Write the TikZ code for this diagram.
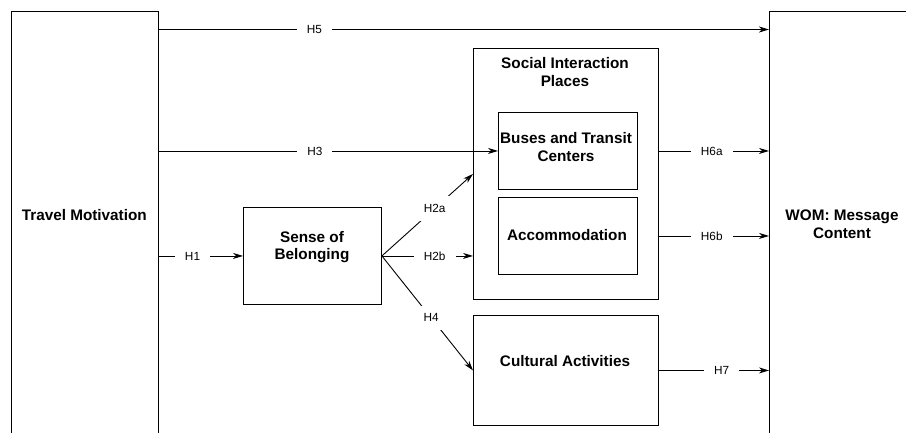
\documentclass[tikz,border=0pt]{standalone}
\usepackage{fontspec}
\setmainfont{Liberation Sans}
\usetikzlibrary{arrows.meta,positioning}

\tikzset{
  box/.style={draw, line width=0.9pt, inner sep=0pt},
  boxtext/.style={font=\fontsize{15.3}{17.5}\selectfont\bfseries, align=center},
  hyp/.style={fill=white, font=\fontsize{11.8}{14}\selectfont, inner xsep=10pt, inner ysep=8pt},
  link/.style={line width=0.9pt, -{Stealth[length=10pt,width=6pt,inset=3pt]}}
}

\begin{document}
\begin{tikzpicture}[x=1pt,y=-1pt]
    \useasboundingbox (0,0) rectangle (906,432);
    % boxes
    \node[box, anchor=north west, minimum width=147.3, minimum height=480] (travel) at (10.7,10.7) {};
    \node[box, anchor=north west, minimum width=160, minimum height=480] (wom) at (769,10.7) {};
    \node[box, anchor=north west, minimum width=138, minimum height=97] (sense) at (243,207) {};
    \node[box, anchor=north west, minimum width=185, minimum height=251] (social) at (473,48) {};
    \node[box, anchor=north west, minimum width=139, minimum height=77] (buses) at (498,112) {};
    \node[box, anchor=north west, minimum width=139, minimum height=77] (accom) at (498,197) {};
    \node[box, anchor=north west, minimum width=185, minimum height=110] (cultural) at (473,315) {};
    % box texts
    \node[boxtext] (travel-text) at (84.3,215) {Travel Motivation};
    \node[boxtext] (wom-text) at (842,224) {WOM: Message\\Content};
    \node[boxtext] (sense-text) at (312,247) {Sense of\\Belonging};
    \node[boxtext] (social-text) at (565,72) {Social Interaction\\Places};
    \node[boxtext] (buses-text) at (566,147) {Buses and Transit\\Centers};
    \node[boxtext] (accom-text) at (567,235) {Accommodation};
    \node[boxtext] (cultural-text) at (565,361) {Cultural Activities};
    % hypotheses
    \draw[link] (travel.east |- 0,29.5) -- node[hyp, pos=0.255] {H5} (wom.west |- 0,29.5);
    \draw[link] (travel.east |- buses.west) -- node[hyp, pos=0.46] {H3} (buses.west);
    \draw[link] (travel.east |- sense.west) -- node[hyp, pos=0.4] {H1} (sense.west);
    \draw[link] (sense.east) -- node[hyp, pos=0.58] {H2a} (social.west);
    \draw[link] (sense.east) -- node[hyp, pos=0.58] {H2b} (social.west |- sense.east);
    \draw[link] (sense.east) -- node[hyp, pos=0.54] {H4} (cultural.west);
    \draw[link] (social.east |- buses.east) -- node[hyp, pos=0.48] {H6a} (wom.west |- buses.east);
    \draw[link] (social.east |- accom.east) -- node[hyp, pos=0.48] {H6b} (wom.west |- accom.east);
    \draw[link] (cultural.east) -- node[hyp, pos=0.57] {H7} (wom.west |- cultural.east);
\end{tikzpicture}
\end{document}
